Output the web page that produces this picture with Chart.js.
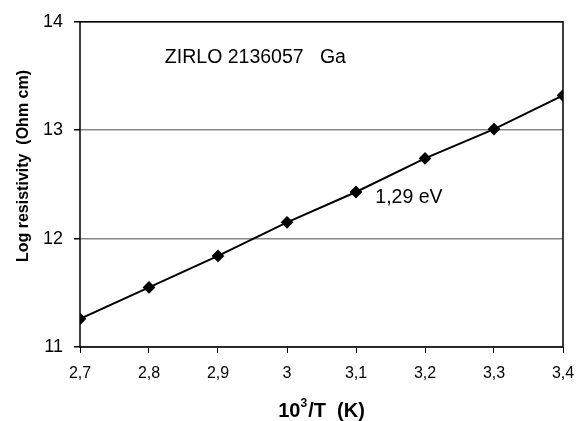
<!DOCTYPE html>
<html>
<head>
<meta charset="utf-8">
<script src="https://cdn.jsdelivr.net/npm/chart.js@4"></script>
<style>
  html, body { margin: 0; padding: 0; background: #fff; }
  #wrap { width: 587px; height: 421px; }
</style>
</head>
<body>
<div id="wrap"><canvas id="chart" width="587" height="421"></canvas></div>
<script>
// values
const invT = [2.7, 2.8, 2.9, 3.0, 3.1, 3.2, 3.3, 3.4];
const logRho = [11.26, 11.55, 11.84, 12.15, 12.43, 12.74, 13.01, 13.32];
const xTicks = [2.7, 2.8, 2.9, 3.0, 3.1, 3.2, 3.3, 3.4];
const yTicks = [11, 12, 13, 14];
const notes = [
  { text: "ZIRLO 2136057   Ga", x: 2.823, y: 13.67 },
  { text: "1,29 eV", x: 3.128, y: 12.38 }
];
const yTitle = "Log resistivity  (Ohm cm)";
const xTitle = ["10", "3", "/T  (K)"];

const FONT = "'Liberation Sans', Arial, sans-serif";

const frame = {
  id: "frame",
  afterDraw(chart) {
    const { ctx, chartArea: a, scales } = chart;
    ctx.save();
    ctx.strokeStyle = "#000";
    ctx.lineWidth = 1.5;
    ctx.strokeRect(a.left, a.top, a.right - a.left, a.bottom - a.top);
    ctx.fillStyle = "#000";

    // notes inside the plot
    ctx.font = "19.5px " + FONT;
    ctx.textAlign = "left";
    ctx.textBaseline = "middle";
    notes.forEach(n => {
      ctx.fillText(n.text, scales.x.getPixelForValue(n.x), scales.y.getPixelForValue(n.y));
    });

    // y title
    ctx.save();
    ctx.translate(24, 166);
    ctx.rotate(-Math.PI / 2);
    ctx.font = "bold 16px " + FONT;
    ctx.textAlign = "center";
    ctx.fillText(yTitle, 0, 0);
    ctx.restore();

    // x title with superscript
    const big = "bold 20px " + FONT, small = "bold 12px " + FONT;
    ctx.font = big;
    const w0 = ctx.measureText(xTitle[0]).width;
    const w2 = ctx.measureText(xTitle[2]).width;
    ctx.font = small;
    const w1 = ctx.measureText(xTitle[1]).width + 1;
    let x = (a.left + a.right) / 2 - (w0 + w1 + w2) / 2;
    const y = 411;
    ctx.textAlign = "left";
    ctx.font = big;
    ctx.fillText(xTitle[0], x, y);
    x += w0;
    ctx.font = small;
    ctx.fillText(xTitle[1], x, y - 7);
    x += w1;
    ctx.font = big;
    ctx.fillText(xTitle[2], x, y);
    ctx.restore();
  }
};

new Chart(document.getElementById("chart"), {
  type: "scatter",
  data: {
    datasets: [{
      data: invT.map((x, i) => ({ x, y: logRho[i] })),
      showLine: true,
      borderColor: "#000",
      backgroundColor: "#000",
      borderWidth: 2,
      pointStyle: "rectRot",
      pointRadius: 5,
      pointHoverRadius: 5
    }]
  },
  options: {
    responsive: false,
    animation: false,
    layout: { padding: { left: 0, top: 20, right: 24, bottom: 0 } },
    plugins: { legend: { display: false }, tooltip: { enabled: false } },
    scales: {
      x: {
        type: "linear",
        min: 2.7,
        max: 3.4,
        afterBuildTicks: s => { s.ticks = xTicks.map(v => ({ value: v })); },
        afterFit: s => { s.height = 74; },
        grid: { drawOnChartArea: false, drawTicks: true, tickLength: 6, color: "#000" },
        border: { display: false },
        ticks: {
          color: "#000",
          padding: 11,
          font: { family: FONT, size: 16 },
          maxRotation: 0,
          callback: v => String(Math.round(v * 10) / 10).replace(".", ",")
        }
      },
      y: {
        min: 11,
        max: 14,
        afterBuildTicks: s => { s.ticks = yTicks.map(v => ({ value: v })); },
        afterFit: s => { s.width = 80; },
        grid: { color: "#888", lineWidth: 1.5, tickLength: 6, tickColor: "#000" },
        border: { display: false },
        ticks: {
          color: "#000",
          padding: 11,
          font: { family: FONT, size: 18 },
          callback: v => String(v)
        }
      }
    }
  },
  plugins: [frame]
});
</script>
</body>
</html>
